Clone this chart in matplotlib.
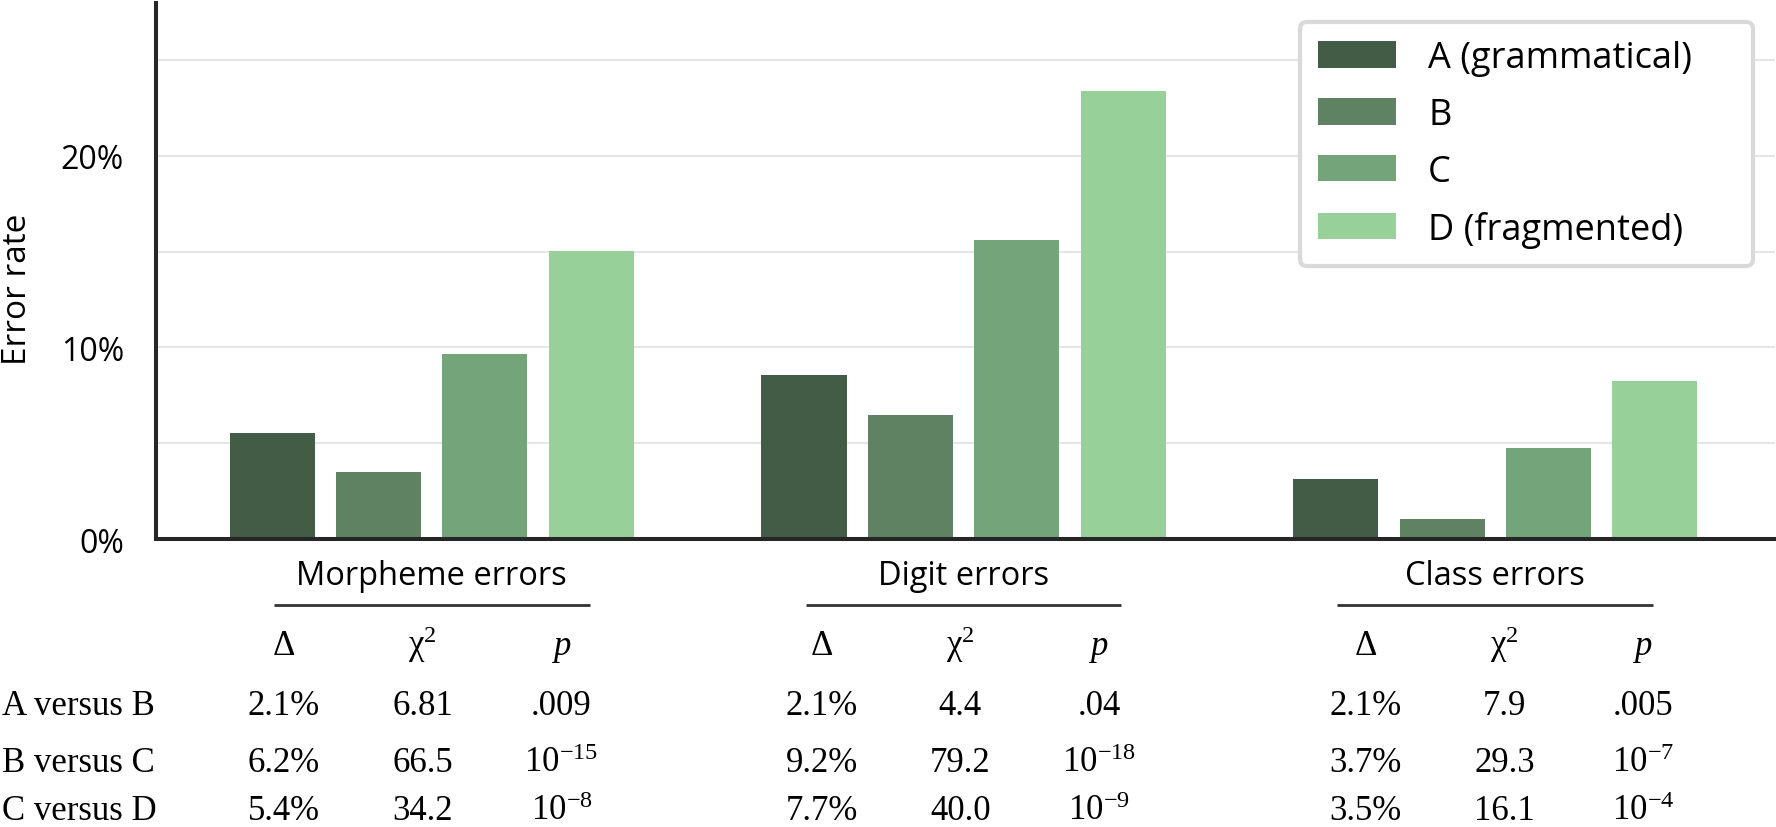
import numpy as np
import matplotlib
matplotlib.use("Agg")
import matplotlib.pyplot as plt
from matplotlib.transforms import blended_transform_factory

groups = ["Morpheme errors", "Digit errors", "Class errors"]
conditions = ["A (grammatical)", "B", "C", "D (fragmented)"]
colors = ["#425c46", "#5e8262", "#74a47a", "#98d09a"]

# error rate in %, one value per group (morpheme, digit, class)
rate_a = [5.55, 8.55, 3.15]
rate_b = [3.5, 6.45, 1.05]
rate_c = [9.65, 15.6, 4.75]
rate_d = [15.05, 23.4, 8.25]

comparisons = ["A versus B", "B versus C", "C versus D"]
delta = [["2.1%", "6.2%", "5.4%"],
         ["2.1%", "9.2%", "7.7%"],
         ["2.1%", "3.7%", "3.5%"]]
chi2 = [["6.81", "66.5", "34.2"],
        ["4.4", "79.2", "40.0"],
        ["7.9", "29.3", "16.1"]]
pval = [[".009", "$10^{-15}$", "$10^{-8}$"],
        [".04", "$10^{-18}$", "$10^{-9}$"],
        [".005", "$10^{-7}$", "$10^{-4}$"]]

plt.rcParams["font.family"] = ["Open Sans", "DejaVu Sans"]
plt.rcParams["mathtext.fontset"] = "custom"
plt.rcParams["mathtext.rm"] = "Liberation Serif"
plt.rcParams["mathtext.it"] = "Liberation Serif:italic"

fig = plt.figure(figsize=(17.76, 8.28), dpi=100)
ax = fig.add_axes([0.0878, 0.3478, 0.9116, 0.6479])

x = np.arange(len(groups))
for i, (rates, col, lab) in enumerate(zip([rate_a, rate_b, rate_c, rate_d], colors, conditions)):
    ax.bar(x + (i - 1.5) * 0.2, rates, width=0.16, color=col, label=lab, zorder=2)

ax.set_xlim(-0.5186, 2.5257)
ax.set_ylim(0, 28)
ax.set_yticks([0, 10, 20])
ax.set_yticklabels(["0%", "10%", "20%"])
ax.set_yticks([5, 15, 25], minor=True)
ax.yaxis.grid(True, which="both", color="#e6e6e6", lw=1.5)
ax.set_axisbelow(True)
ax.tick_params(axis="y", which="both", length=0, pad=23, labelsize=23)
ax.set_xticks([])
for s in ["top", "right"]:
    ax.spines[s].set_visible(False)
for s in ["left", "bottom"]:
    ax.spines[s].set_linewidth(2.9)
    ax.spines[s].set_color("#262626")

fig.text(0.0101, 0.651, "Error rate", rotation=90, ha="center", va="center", fontsize=24)

leg = ax.legend(loc="upper left", bbox_to_anchor=(0.732, 0.5, 0.255, 0.4722),
                bbox_transform=fig.transFigure, mode="expand", borderaxespad=0,
                fontsize=26, handlelength=2.15, handleheight=0.74, handletextpad=0.9,
                labelspacing=0.58, borderpad=0.5, fancybox=True, framealpha=1,
                edgecolor="#d9d9d9")
leg.get_frame().set_linewidth(3)

# table under the bars
tr = blended_transform_factory(ax.transData, fig.transFigure)
serif = "Liberation Serif"
fs = 25
table_x = [-0.017, 0.994, 2.017]
col_off = [-0.261, 0, 0.261]
row_y = [0.1368, 0.068, 0.0095]

for g, name in enumerate(groups):
    ax.text(x[g], 0.2931, name, transform=tr, ha="center", va="baseline", fontsize=23.5)
    ax.plot([x[g] - 0.297, x[g] + 0.297], [0.2677, 0.2677], transform=tr,
            color="#333333", lw=2, clip_on=False, solid_capstyle="butt")
    cx = [table_x[g] + o for o in col_off]
    ax.text(cx[0], 0.2086, "Δ", transform=tr, ha="center", va="baseline",
            fontsize=fs, family=serif)
    ax.text(cx[1], 0.2086, r"$\mathrm{\chi}^{2}$", transform=tr, ha="center",
            va="baseline", fontsize=fs)
    ax.text(cx[2], 0.2086, "p", transform=tr, ha="center", va="baseline",
            fontsize=fs, family=serif, style="italic")
    for r in range(3):
        for c, vals in enumerate([delta, chi2, pval]):
            ax.text(cx[c], row_y[r], vals[g][r], transform=tr, ha="center",
                    va="baseline", fontsize=fs, family=serif)

for r, lab in enumerate(comparisons):
    fig.text(0.001, row_y[r], lab, ha="left", va="baseline", fontsize=fs, family=serif)

fig.savefig("out.png", dpi=100)
